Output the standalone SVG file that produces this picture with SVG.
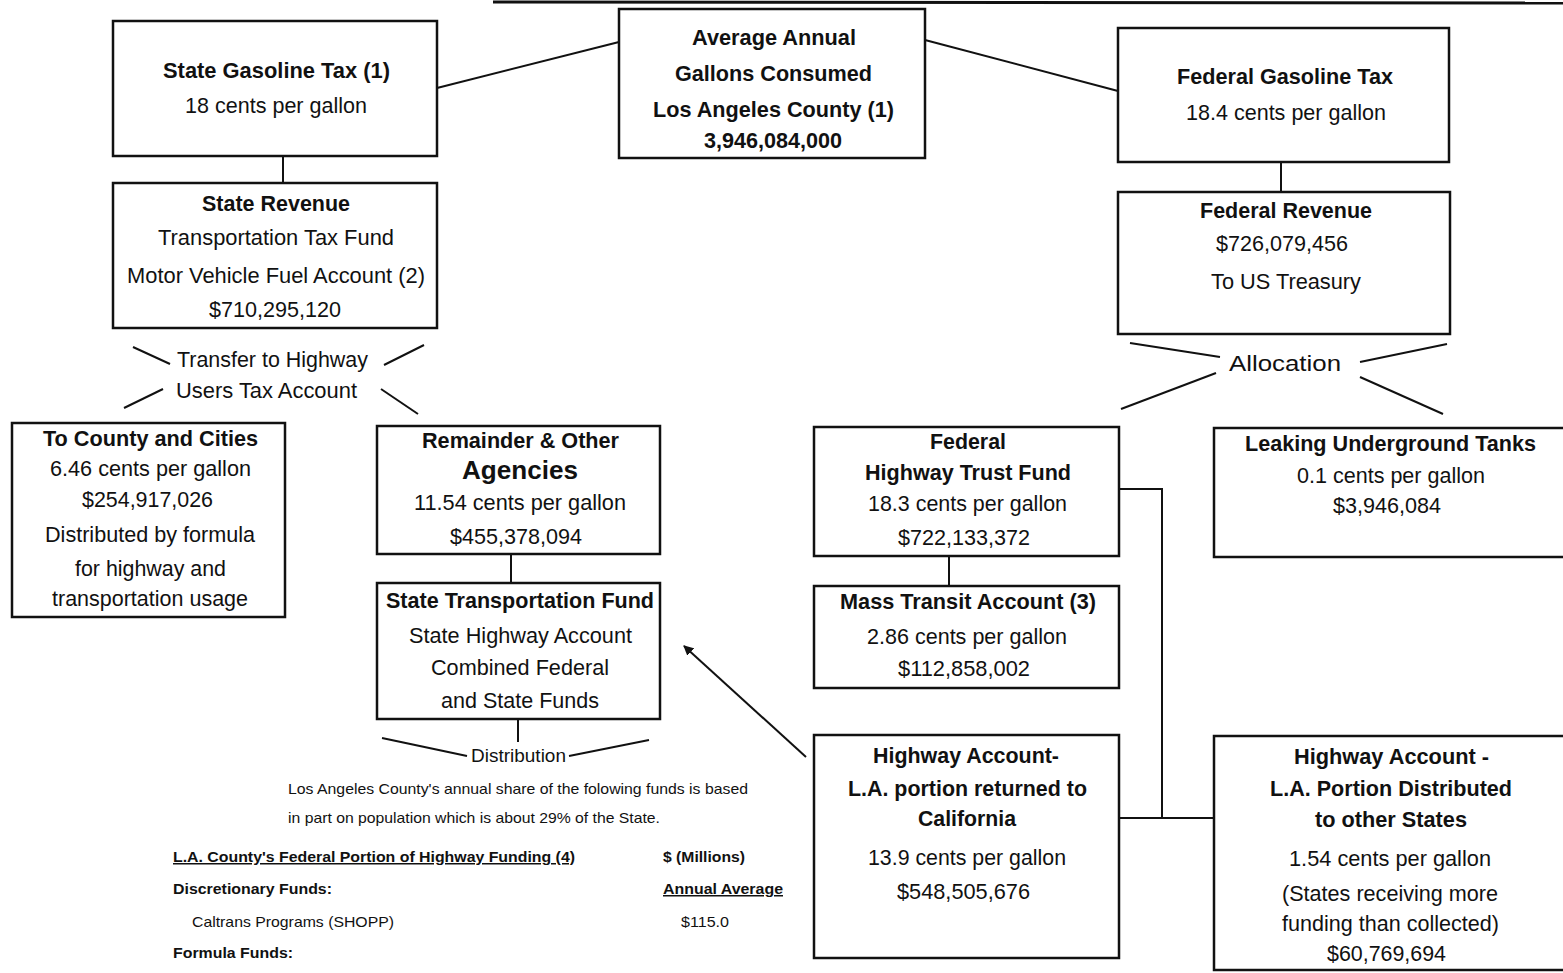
<svg xmlns="http://www.w3.org/2000/svg" width="1563" height="973" viewBox="0 0 1563 973">
<style>
text{font-family:"Liberation Sans",Arial,sans-serif;fill:#111;font-size:22.5px}
.b{font-weight:bold}
.s{font-size:15px}
.sb{font-size:15px;font-weight:bold}
.u{text-decoration:underline}
rect{fill:#fff;stroke:#111;stroke-width:2.5}
.c line,.c path{stroke:#111;stroke-width:2;fill:none}
</style>
<defs>
<marker id="ah" viewBox="0 0 10 10" refX="9" refY="5" markerWidth="10" markerHeight="10" markerUnits="userSpaceOnUse" orient="auto">
<path d="M0,0 L10,5 L0,10 z" fill="#111"/>
</marker>
</defs>
<rect width="1563" height="973" style="fill:#fff;stroke:none"/>
<g class="c" id="connectors">
<line x1="493" y1="2" x2="1563" y2="3" style="stroke-width:3"/>
<line x1="437" y1="88" x2="619" y2="42"/>
<line x1="925" y1="40" x2="1118" y2="91"/>
<line x1="283" y1="156" x2="283" y2="183"/>
<line x1="1281" y1="162" x2="1281" y2="192"/>
<line x1="133" y1="347" x2="170" y2="364"/>
<line x1="384" y1="365" x2="424" y2="345"/>
<line x1="124" y1="408" x2="163" y2="389"/>
<line x1="381" y1="389" x2="418" y2="414"/>
<line x1="1130" y1="343" x2="1220" y2="357"/>
<line x1="1360" y1="362" x2="1447" y2="344"/>
<line x1="1121" y1="409" x2="1216" y2="373"/>
<line x1="1360" y1="377" x2="1443" y2="414"/>
<line x1="511" y1="554" x2="511" y2="583"/>
<line x1="518" y1="719" x2="518" y2="742"/>
<line x1="382" y1="738" x2="467" y2="756"/>
<line x1="569" y1="756" x2="649" y2="740"/>
<line x1="949" y1="556" x2="949" y2="586"/>
<path d="M1119,489 H1162 V818 M1119,818 H1214"/>
<line x1="806" y1="757" x2="684" y2="646" marker-end="url(#ah)"/>
<text x="177" y="367" textLength="191" lengthAdjust="spacingAndGlyphs">Transfer to Highway</text>
<text x="176" y="398" textLength="181" lengthAdjust="spacingAndGlyphs">Users Tax Account</text>
<text x="1229" y="371" textLength="112" lengthAdjust="spacingAndGlyphs">Allocation</text>
<text x="471" y="762" style="font-size:19px" textLength="95" lengthAdjust="spacingAndGlyphs">Distribution</text>
</g>
<g id="state-gas-tax">
<rect x="113" y="21" width="324" height="135"/>
<text class="b" x="163" y="78" textLength="227" lengthAdjust="spacingAndGlyphs">State Gasoline Tax (1)</text>
<text x="185" y="113" textLength="182" lengthAdjust="spacingAndGlyphs">18 cents per gallon</text>
</g>
<g id="avg-gallons">
<rect x="619" y="9" width="306" height="149"/>
<text class="b" x="692" y="45" textLength="164" lengthAdjust="spacingAndGlyphs">Average Annual</text>
<text class="b" x="675" y="81" textLength="197" lengthAdjust="spacingAndGlyphs">Gallons Consumed</text>
<text class="b" x="653" y="117" textLength="241" lengthAdjust="spacingAndGlyphs">Los Angeles County (1)</text>
<text class="b" x="704" y="148" textLength="138" lengthAdjust="spacingAndGlyphs">3,946,084,000</text>
</g>
<g id="federal-gas-tax">
<rect x="1118" y="28" width="331" height="134"/>
<text class="b" x="1177" y="84" textLength="216" lengthAdjust="spacingAndGlyphs">Federal Gasoline Tax</text>
<text x="1186" y="120" textLength="200" lengthAdjust="spacingAndGlyphs">18.4 cents per gallon</text>
</g>
<g id="state-revenue">
<rect x="113" y="183" width="324" height="145"/>
<text class="b" x="202" y="211" textLength="148" lengthAdjust="spacingAndGlyphs">State Revenue</text>
<text x="158" y="245" textLength="236" lengthAdjust="spacingAndGlyphs">Transportation Tax Fund</text>
<text x="127" y="283" textLength="298" lengthAdjust="spacingAndGlyphs">Motor Vehicle Fuel Account (2)</text>
<text x="209" y="317" textLength="132" lengthAdjust="spacingAndGlyphs">$710,295,120</text>
</g>
<g id="federal-revenue">
<rect x="1118" y="192" width="332" height="142"/>
<text class="b" x="1200" y="218" textLength="172" lengthAdjust="spacingAndGlyphs">Federal Revenue</text>
<text x="1216" y="251" textLength="132" lengthAdjust="spacingAndGlyphs">$726,079,456</text>
<text x="1211" y="289" textLength="150" lengthAdjust="spacingAndGlyphs">To US Treasury</text>
</g>
<g id="county-cities">
<rect x="12" y="423" width="273" height="194"/>
<text class="b" x="43" y="446" textLength="215" lengthAdjust="spacingAndGlyphs">To County and Cities</text>
<text x="50" y="476" textLength="201" lengthAdjust="spacingAndGlyphs">6.46 cents per gallon</text>
<text x="82" y="507" textLength="131" lengthAdjust="spacingAndGlyphs">$254,917,026</text>
<text x="45" y="542" textLength="210" lengthAdjust="spacingAndGlyphs">Distributed by formula</text>
<text x="75" y="576" textLength="151" lengthAdjust="spacingAndGlyphs">for highway and</text>
<text x="52" y="606" textLength="196" lengthAdjust="spacingAndGlyphs">transportation usage</text>
</g>
<g id="remainder">
<rect x="377" y="426" width="283" height="128"/>
<text class="b" x="422" y="448" textLength="197" lengthAdjust="spacingAndGlyphs">Remainder &amp; Other</text>
<text class="b" x="462" y="479" style="font-size:25px" textLength="116" lengthAdjust="spacingAndGlyphs">Agencies</text>
<text x="414" y="510" textLength="212" lengthAdjust="spacingAndGlyphs">11.54 cents per gallon</text>
<text x="450" y="544" textLength="132" lengthAdjust="spacingAndGlyphs">$455,378,094</text>
</g>
<g id="state-transportation-fund">
<rect x="377" y="583" width="283" height="136"/>
<text class="b" x="386" y="608" textLength="268" lengthAdjust="spacingAndGlyphs">State Transportation Fund</text>
<text x="409" y="643" textLength="223" lengthAdjust="spacingAndGlyphs">State Highway Account</text>
<text x="431" y="675" textLength="178" lengthAdjust="spacingAndGlyphs">Combined Federal</text>
<text x="441" y="708" textLength="158" lengthAdjust="spacingAndGlyphs">and State Funds</text>
</g>
<g id="highway-trust-fund">
<rect x="814" y="427" width="305" height="129"/>
<text class="b" x="930" y="449" textLength="76" lengthAdjust="spacingAndGlyphs">Federal</text>
<text class="b" x="865" y="480" textLength="206" lengthAdjust="spacingAndGlyphs">Highway Trust Fund</text>
<text x="868" y="511" textLength="199" lengthAdjust="spacingAndGlyphs">18.3 cents per gallon</text>
<text x="898" y="545" textLength="132" lengthAdjust="spacingAndGlyphs">$722,133,372</text>
</g>
<g id="mass-transit">
<rect x="814" y="586" width="305" height="102"/>
<text class="b" x="840" y="609" textLength="256" lengthAdjust="spacingAndGlyphs">Mass Transit Account (3)</text>
<text x="867" y="644" textLength="200" lengthAdjust="spacingAndGlyphs">2.86 cents per gallon</text>
<text x="898" y="676" textLength="132" lengthAdjust="spacingAndGlyphs">$112,858,002</text>
</g>
<g id="leaking-tanks">
<rect x="1214" y="428" width="360" height="129"/>
<text class="b" x="1245" y="451" textLength="291" lengthAdjust="spacingAndGlyphs">Leaking Underground Tanks</text>
<text x="1297" y="483" textLength="188" lengthAdjust="spacingAndGlyphs">0.1 cents per gallon</text>
<text x="1333" y="513" textLength="108" lengthAdjust="spacingAndGlyphs">$3,946,084</text>
</g>
<g id="hwy-returned">
<rect x="814" y="735" width="305" height="223"/>
<text class="b" x="873" y="763" textLength="186" lengthAdjust="spacingAndGlyphs">Highway Account-</text>
<text class="b" x="848" y="796" textLength="239" lengthAdjust="spacingAndGlyphs">L.A. portion returned to</text>
<text class="b" x="918" y="826" textLength="98" lengthAdjust="spacingAndGlyphs">California</text>
<text x="868" y="865" textLength="198" lengthAdjust="spacingAndGlyphs">13.9 cents per gallon</text>
<text x="897" y="899" textLength="133" lengthAdjust="spacingAndGlyphs">$548,505,676</text>
</g>
<g id="hwy-other-states">
<rect x="1214" y="736" width="360" height="234"/>
<text class="b" x="1294" y="764" textLength="195" lengthAdjust="spacingAndGlyphs">Highway Account -</text>
<text class="b" x="1270" y="796" textLength="242" lengthAdjust="spacingAndGlyphs">L.A. Portion Distributed</text>
<text class="b" x="1315" y="827" textLength="152" lengthAdjust="spacingAndGlyphs">to other States</text>
<text x="1289" y="866" textLength="202" lengthAdjust="spacingAndGlyphs">1.54 cents per gallon</text>
<text x="1282" y="901" textLength="216" lengthAdjust="spacingAndGlyphs">(States receiving more</text>
<text x="1282" y="931" textLength="217" lengthAdjust="spacingAndGlyphs">funding than collected)</text>
<text x="1327" y="961" textLength="119" lengthAdjust="spacingAndGlyphs">$60,769,694</text>
</g>
<g id="funding-notes">
<text class="s" x="288" y="794" textLength="460" lengthAdjust="spacingAndGlyphs">Los Angeles County's annual share of the folowing funds is based</text>
<text class="s" x="288" y="823" textLength="372" lengthAdjust="spacingAndGlyphs">in part on population which is about 29% of the State.</text>
<text class="sb u" x="173" y="862" textLength="402" lengthAdjust="spacingAndGlyphs">L.A. County's Federal Portion of Highway Funding (4)</text>
<text class="sb" x="663" y="862" textLength="82" lengthAdjust="spacingAndGlyphs">$ (Millions)</text>
<text class="sb" x="173" y="894" textLength="159" lengthAdjust="spacingAndGlyphs">Discretionary Funds:</text>
<text class="sb u" x="663" y="894" textLength="120" lengthAdjust="spacingAndGlyphs">Annual Average</text>
<text class="s" x="192" y="927" textLength="202" lengthAdjust="spacingAndGlyphs">Caltrans Programs (SHOPP)</text>
<text class="s" x="681" y="927" textLength="48" lengthAdjust="spacingAndGlyphs">$115.0</text>
<text class="sb" x="173" y="958" textLength="120" lengthAdjust="spacingAndGlyphs">Formula Funds:</text>
</g>
</svg>
